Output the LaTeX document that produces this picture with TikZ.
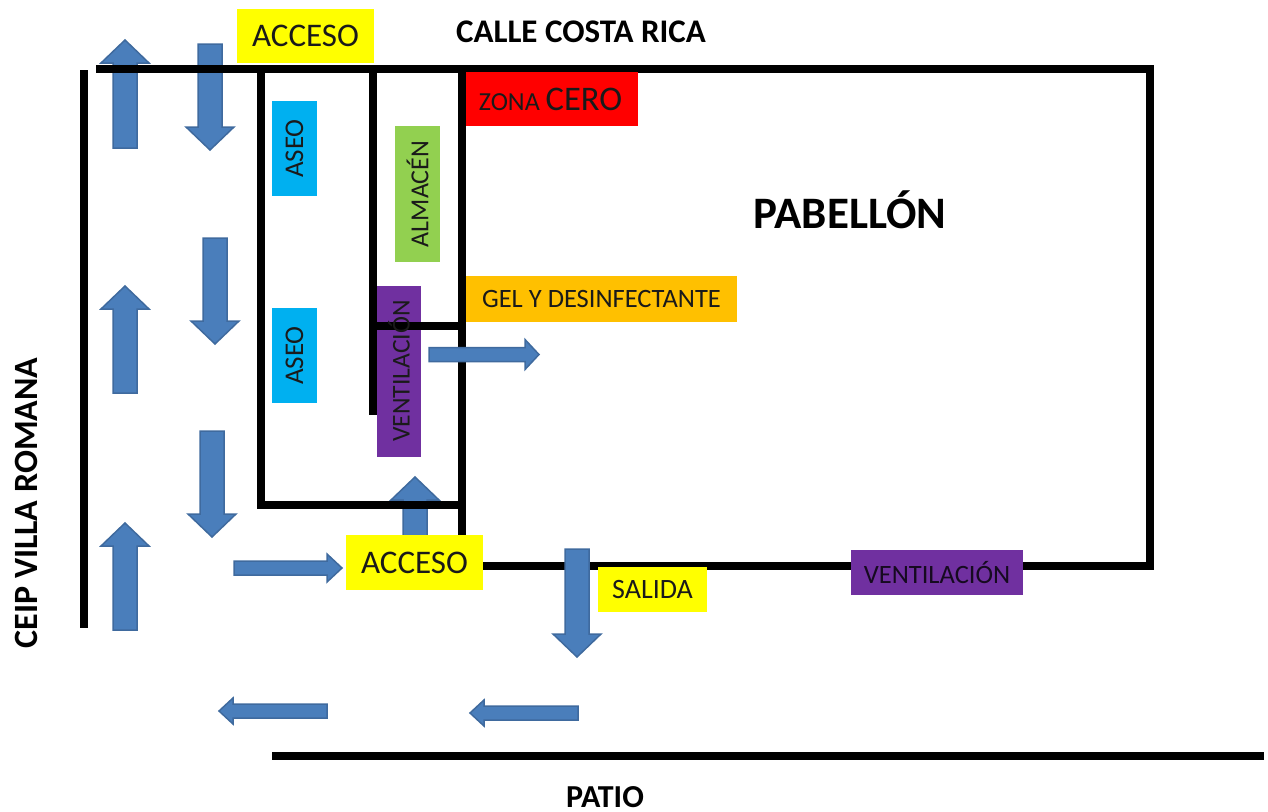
\documentclass[tikz,border=0pt]{standalone}
\usepackage{fontspec}
\setmainfont{Carlito}
\definecolor{arrowfill}{HTML}{4A7EBB}
\definecolor{arrowedge}{HTML}{3F6A9E}
\definecolor{cyanbox}{HTML}{00B0F0}
\definecolor{greenbox}{HTML}{92D050}
\definecolor{purplebox}{HTML}{7030A0}
\definecolor{orangebox}{HTML}{FFC000}
\definecolor{redbox}{HTML}{FF0000}
\definecolor{yellowbox}{HTML}{FFFF00}
\definecolor{inktext}{HTML}{1A1A1A}
% vertical block arrow: x, tail y, head base y, tip y, shaft half, head half
\newcommand{\varrow}[6]{\draw[blockarrow] (#1-#5,#2) -- (#1-#5,#3) -- (#1-#6,#3) -- (#1,#4) -- (#1+#6,#3) -- (#1+#5,#3) -- (#1+#5,#2) -- cycle;}
% horizontal block arrow: y, tail x, head base x, tip x, shaft half, head half
\newcommand{\harrow}[6]{\draw[blockarrow] (#2,#1-#5) -- (#3,#1-#5) -- (#3,#1-#6) -- (#4,#1) -- (#3,#1+#6) -- (#3,#1+#5) -- (#2,#1+#5) -- cycle;}
\tikzset{
  x=1pt,y=-1pt,
  wall/.style={line width=8pt,black},
  blockarrow/.style={fill=arrowfill,draw=arrowedge,line width=1.5pt,line join=miter},
  tagbox/.style={inner sep=0pt,text=inktext,align=center},
  big/.style={font=\fontsize{33}{36}\selectfont},
  title/.style={font=\bfseries\fontsize{32}{35}\selectfont,text=black,inner sep=0pt},
}
\begin{document}
\begin{tikzpicture}
\useasboundingbox (0,0) rectangle (1268,811);
% arrows under the walls
\varrow{125}{148}{63}{40}{12}{24}
\varrow{210}{44}{127}{150}{12}{24}
\varrow{415}{536}{500}{477}{12}{24}
% ventilation fill under the walls
\node[tagbox,fill=purplebox,minimum width=44pt,minimum height=171pt] (ventbox) at (399,371.5) {};
% walls
\draw[wall] (96,69) -- (1154,69);
\draw[wall] (1150,69) -- (1150,570);
\draw[wall] (462,566) -- (1154,566);
\draw[wall] (84,70) -- (84,628);
\draw[wall] (272,756) -- (1264,756);
\draw[wall] (261,69) -- (261,509);
\draw[wall] (373,69) -- (373,415);
\draw[wall] (462,69) -- (462,540);
\draw[wall] (261,505) -- (462,505);
\draw[wall] (373,326) -- (462,326);
% remaining arrows
\varrow{215}{238}{321}{344}{12}{24}
\varrow{212}{431}{514}{537}{12}{24}
\varrow{125}{393}{309}{286}{12}{24}
\varrow{125}{630}{546}{523}{12}{24}
\varrow{577}{549}{634}{657}{12}{24}
\harrow{568}{234}{327}{342}{7}{14}
\harrow{354.5}{429}{525}{539}{7}{15}
\harrow{711}{327}{233}{219}{7}{13}
\harrow{713}{578}{484}{470}{7}{13}
% labels
\node[tagbox,big,fill=yellowbox,minimum width=137pt,minimum height=54pt] (accesotop) at (305.5,36) {ACCESO};
\node[tagbox,big,fill=yellowbox,minimum width=137pt,minimum height=55pt] (accesobot) at (414.5,562.5) {ACCESO};
\node[tagbox,fill=redbox,minimum width=172pt,minimum height=54pt] (zona) at (552,99) {\hspace*{-3pt}\fontsize{26}{30}\selectfont ZONA \fontsize{34.5}{38}\selectfont CERO};
\node[tagbox,font=\fontsize{27}{30}\selectfont,fill=cyanbox,minimum width=95pt,minimum height=45pt,rotate=90] (aseoa) at (294.5,148.5) {ASEO};
\node[tagbox,font=\fontsize{27}{30}\selectfont,fill=cyanbox,minimum width=95pt,minimum height=45pt,rotate=90] (aseob) at (294.5,355.5) {ASEO};
\node[tagbox,font=\fontsize{26}{30}\selectfont,fill=greenbox,minimum width=136pt,minimum height=45pt,rotate=90] (almacen) at (417.5,194) {ALMACÉN};
\node[tagbox,font=\fontsize{25.6}{30}\selectfont,rotate=90] (ventlabel) at (399,371) {VENTILACIÓN};
\node[tagbox,font=\fontsize{26.5}{30}\selectfont,fill=orangebox,minimum width=271pt,minimum height=46pt] (gel) at (601.5,299) {GEL Y DESINFECTANTE};
\node[tagbox,font=\fontsize{28}{30}\selectfont,fill=yellowbox,minimum width=109pt,minimum height=45pt] (salida) at (652.5,589.5) {SALIDA};
\node[tagbox,font=\fontsize{26.5}{30}\selectfont,fill=purplebox,minimum width=172pt,minimum height=45pt,text=black!80!purplebox] (ventb) at (937,572.5) {VENTILACIÓN};
\node[title,font=\bfseries\fontsize{33}{36}\selectfont] (calle) at (581,32) {CALLE COSTA RICA};
\node[title,font=\bfseries\fontsize{45}{48}\selectfont] (pabellon) at (850,210) {PABELLÓN};
\node[title] (patio) at (605,797) {PATIO};
\node[title,font=\bfseries\fontsize{34}{37}\selectfont,rotate=90] (ceip) at (26,503) {CEIP VILLA ROMANA};
\end{tikzpicture}
\end{document}
